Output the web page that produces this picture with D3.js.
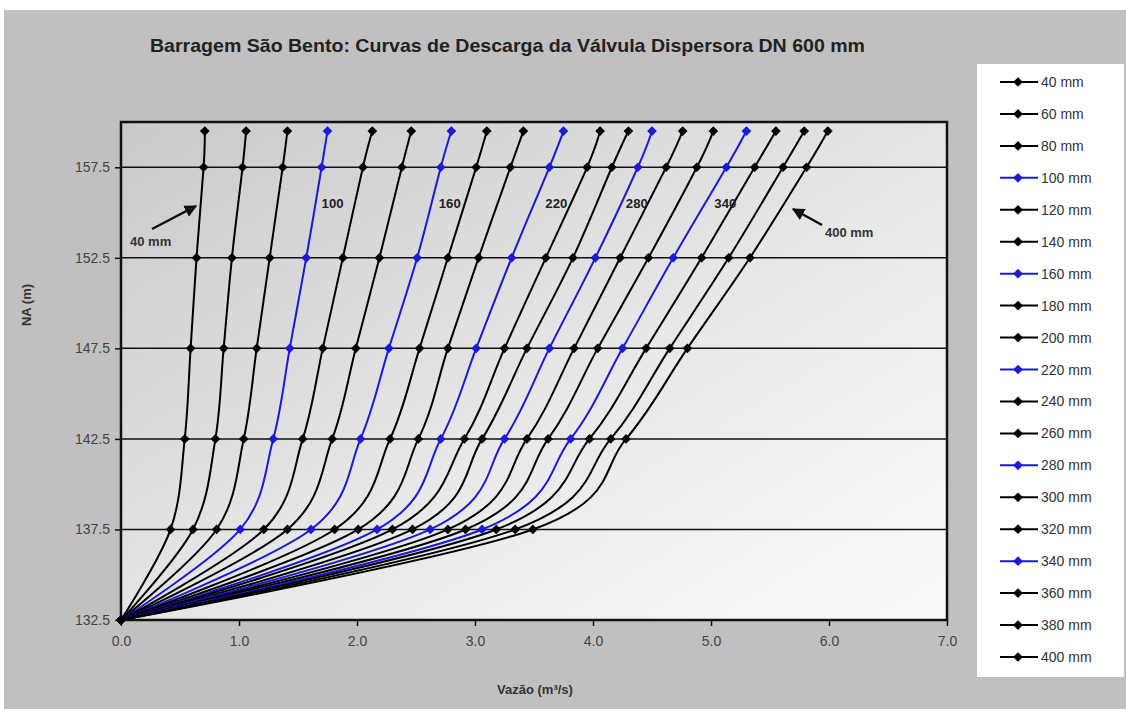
<!DOCTYPE html>
<html>
<head>
<meta charset="utf-8">
<script src="https://cdn.jsdelivr.net/npm/d3@7"></script>
<style>
  body { margin: 0; background: #fff; }
  text { font-family: "Liberation Sans", Arial, sans-serif; }
</style>
</head>
<body>
<div id="vis"></div>
<script>
// aberturas da válvula (mm)
var openings = [40, 60, 80, 100, 120, 140, 160, 180, 200, 220, 240, 260, 280, 300, 320, 340, 360, 380, 400];
var blueOnes = [100, 160, 220, 280, 340];

// níveis de água (m)
var levels = [132.5, 137.5, 142.5, 147.5, 152.5, 157.5, 159.5];

// vazão (m3/s) em cada nível, uma entrada por abertura
var q1325 = [0, 0, 0, 0, 0, 0, 0, 0, 0, 0, 0, 0, 0, 0, 0, 0, 0, 0, 0];
var q1375 = [0.42, 0.61, 0.81, 1.01, 1.21, 1.41, 1.61, 1.81, 2.01, 2.17, 2.30, 2.47, 2.62, 2.77, 2.92, 3.06, 3.18, 3.34, 3.49];
var q1425 = [0.54, 0.80, 1.04, 1.29, 1.54, 1.79, 2.03, 2.28, 2.52, 2.71, 2.91, 3.06, 3.25, 3.44, 3.62, 3.81, 3.97, 4.15, 4.28];
var q1475 = [0.59, 0.87, 1.15, 1.43, 1.71, 1.99, 2.27, 2.53, 2.77, 3.01, 3.25, 3.44, 3.63, 3.84, 4.04, 4.25, 4.45, 4.65, 4.80];
var q1525 = [0.64, 0.94, 1.26, 1.57, 1.88, 2.19, 2.51, 2.77, 3.03, 3.31, 3.60, 3.83, 4.02, 4.23, 4.47, 4.68, 4.92, 5.15, 5.33];
var q1575 = [0.70, 1.03, 1.37, 1.70, 2.05, 2.38, 2.71, 3.01, 3.30, 3.63, 3.95, 4.16, 4.38, 4.62, 4.88, 5.13, 5.37, 5.61, 5.81];
var q1595 = [0.71, 1.06, 1.41, 1.75, 2.13, 2.46, 2.80, 3.10, 3.41, 3.75, 4.06, 4.30, 4.50, 4.76, 5.02, 5.30, 5.55, 5.79, 5.99];

var xTicks = [0, 1, 2, 3, 4, 5, 6, 7];
var yTicks = [132.5, 137.5, 142.5, 147.5, 152.5, 157.5];

// rótulos dentro do gráfico
var curveLabels = ["100", "160", "220", "280", "340"];

var W = 1126, H = 709;
var cols = [q1325, q1375, q1425, q1475, q1525, q1575, q1595];

var series = openings.map(function(mm, i) {
    return {
        name: mm + " mm",
        blue: blueOnes.indexOf(mm) >= 0,
        points: cols.map(function(c, j) { return {q: c[i], h: levels[j]}; })
    };
});

var svg = d3.select("#vis").append("svg")
    .attr("width", W)
    .attr("height", H);

var defs = svg.append("defs");
var grad = defs.append("linearGradient")
    .attr("id", "plotbg")
    .attr("x1", "0").attr("y1", "0")
    .attr("x2", "1").attr("y2", "1");
grad.append("stop").attr("offset", "0").attr("stop-color", "#c9c9c9");
grad.append("stop").attr("offset", "0.55").attr("stop-color", "#e8e8e8");
grad.append("stop").attr("offset", "1").attr("stop-color", "#fbfbfb");

// fundo cinza
svg.append("rect")
    .attr("x", 4).attr("y", 10)
    .attr("width", W - 4).attr("height", H - 10)
    .attr("fill", "#c0c0c0");

var pL = 121, pR = 947, pT = 122, pB = 620;

var x = d3.scaleLinear().domain([0, 7]).range([pL, pR]);
var y = d3.scaleLinear().domain([132.5, 160]).range([pB, pT]);

svg.append("rect")
    .attr("x", pL).attr("y", pT)
    .attr("width", pR - pL).attr("height", pB - pT)
    .attr("fill", "url(#plotbg)");

// linhas de grade
svg.append("g").selectAll("line").data(yTicks.slice(1)).enter()
    .append("line")
    .attr("x1", pL).attr("x2", pR)
    .attr("y1", function(d) { return y(d); })
    .attr("y2", function(d) { return y(d); })
    .attr("stroke", "#111")
    .attr("stroke-width", 1.5);

// eixos
var xAxis = svg.append("g")
    .attr("transform", "translate(0," + pB + ")")
    .call(d3.axisBottom(x).tickValues(xTicks).tickFormat(d3.format(".1f")).tickSize(6).tickPadding(10));
var yAxis = svg.append("g")
    .attr("transform", "translate(" + pL + ",0)")
    .call(d3.axisLeft(y).tickValues(yTicks).tickFormat(d3.format(".1f")).tickSize(6).tickPadding(5));

[xAxis, yAxis].forEach(function(a) {
    a.select(".domain").remove();
    a.selectAll("line").attr("stroke", "#111").attr("stroke-width", 1.5);
    a.selectAll("text")
        .attr("fill", "#444")
        .style("font-size", "14px")
        .style("font-family", "'Liberation Sans', Arial, sans-serif");
});

// moldura
svg.append("rect")
    .attr("x", pL).attr("y", pT)
    .attr("width", pR - pL).attr("height", pB - pT)
    .attr("fill", "none")
    .attr("stroke", "#111")
    .attr("stroke-width", 2.5);

var line = d3.line()
    .x(function(d) { return x(d.q); })
    .y(function(d) { return y(d.h); })
    .curve(d3.curveCardinal.tension(0));

var diamond = d3.symbol().type(d3.symbolDiamond2).size(60);

var groups = svg.append("g").selectAll("g").data(series).enter()
    .append("g");

groups.append("path")
    .attr("d", function(d) { return line(d.points); })
    .attr("fill", "none")
    .attr("stroke", function(d) { return d.blue ? "#1a1ad8" : "#000"; })
    .attr("stroke-width", 2);

groups.selectAll("path.mk").data(function(d) {
        return d.points.map(function(p) { return {q: p.q, h: p.h, blue: d.blue}; });
    }).enter()
    .append("path")
    .attr("class", "mk")
    .attr("d", diamond)
    .attr("transform", function(d) { return "translate(" + x(d.q) + "," + y(d.h) + ")"; })
    .attr("fill", function(d) { return d.blue ? "#1a1ad8" : "#000"; });

// rótulos das curvas azuis
var labelSeries = series.filter(function(s) { return s.blue; });
svg.append("g").selectAll("text").data(labelSeries).enter()
    .append("text")
    .attr("x", function(d, i) { return x(d.points[5].q) + [0, -2, -4, -12, -12][i]; })
    .attr("y", 208)
    .attr("fill", "#222")
    .attr("textLength", 22)
    .attr("lengthAdjust", "spacingAndGlyphs")
    .style("font-size", "13px")
    .style("font-weight", "bold")
    .text(function(d, i) { return curveLabels[i]; });

// anotações 40 mm e 400 mm
defs.append("marker")
    .attr("id", "arrow")
    .attr("viewBox", "0 0 10 10")
    .attr("refX", 9).attr("refY", 5)
    .attr("markerWidth", 5).attr("markerHeight", 5)
    .attr("orient", "auto")
    .append("path")
    .attr("d", "M0,0 L10,5 L0,10 z")
    .attr("fill", "#111");

svg.append("line")
    .attr("x1", 152).attr("y1", 229)
    .attr("x2", 196).attr("y2", 206)
    .attr("stroke", "#111").attr("stroke-width", 2.5)
    .attr("marker-end", "url(#arrow)");
svg.append("text")
    .attr("x", 130).attr("y", 246)
    .attr("fill", "#333")
    .style("font-size", "13px")
    .style("font-weight", "bold")
    .text("40 mm");

svg.append("line")
    .attr("x1", 822).attr("y1", 225)
    .attr("x2", 793).attr("y2", 209)
    .attr("stroke", "#111").attr("stroke-width", 2.5)
    .attr("marker-end", "url(#arrow)");
svg.append("text")
    .attr("x", 825).attr("y", 237)
    .attr("fill", "#333")
    .style("font-size", "13px")
    .style("font-weight", "bold")
    .text("400 mm");

// títulos
svg.append("text")
    .attr("x", 150).attr("y", 52)
    .attr("fill", "#222")
    .attr("textLength", 715)
    .attr("lengthAdjust", "spacingAndGlyphs")
    .style("font-size", "19px")
    .style("font-weight", "bold")
    .text("Barragem São Bento:  Curvas de Descarga da  Válvula Dispersora DN 600 mm");

svg.append("text")
    .attr("x", 535).attr("y", 694)
    .attr("text-anchor", "middle")
    .attr("fill", "#333")
    .style("font-size", "13px")
    .style("font-weight", "bold")
    .text("Vazão (m³/s)");

svg.append("text")
    .attr("transform", "translate(31,305) rotate(-90)")
    .attr("text-anchor", "middle")
    .attr("fill", "#333")
    .style("font-size", "13px")
    .style("font-weight", "bold")
    .text("NA (m)");

// legenda
var legend = svg.append("g");
legend.append("rect")
    .attr("x", 977).attr("y", 64)
    .attr("width", 147).attr("height", 613)
    .attr("fill", "#fff");

var ly = d3.scalePoint().domain(openings).range([82, 657]);
var items = legend.selectAll("g").data(series).enter()
    .append("g")
    .attr("transform", function(d, i) { return "translate(0," + ly(openings[i]) + ")"; });
items.append("line")
    .attr("x1", 1000).attr("x2", 1038)
    .attr("stroke", function(d) { return d.blue ? "#1a1ad8" : "#000"; })
    .attr("stroke-width", 2);
items.append("path")
    .attr("d", diamond)
    .attr("transform", "translate(1018,0)")
    .attr("fill", function(d) { return d.blue ? "#1a1ad8" : "#000"; });
items.append("text")
    .attr("x", 1041).attr("y", 5)
    .attr("fill", "#333")
    .style("font-size", "14px")
    .text(function(d) { return d.name; });
</script>
</body>
</html>
